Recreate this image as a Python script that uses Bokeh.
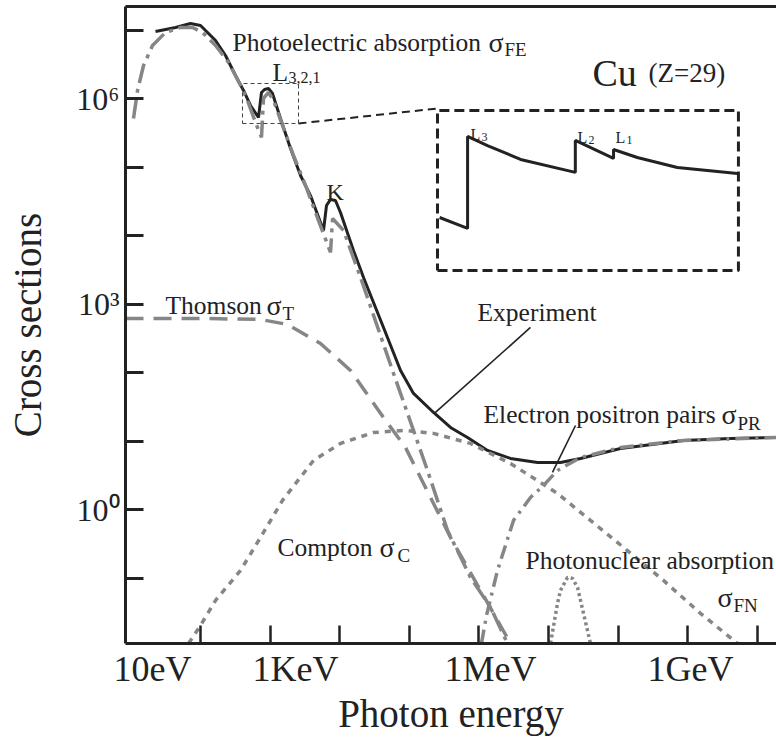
import json
import numpy as np
from bokeh.plotting import figure
from bokeh.models import Range1d, FixedTicker, Label, LogAxis, CustomJSTickFormatter
from bokeh.embed import file_html
from bokeh.resources import INLINE

# ---------------- data (log10 photon energy in eV, log10 cross section) ----------------
exp_loge = [1.353, 1.641, 1.856, 2.0, 2.216, 2.359, 2.503, 2.618, 2.718, 2.833, 2.876, 2.920,
            2.977, 3.034, 3.149, 3.293, 3.437, 3.580, 3.767, 3.810, 3.868, 3.939, 4.011, 4.198,
            4.342, 4.629, 4.874, 5.060, 5.348, 5.592, 5.836, 6.124, 6.454, 6.842, 7.172, 7.460,
            8.034, 8.940, 9.615, 10.276]
exp_logs = [6.985, 7.044, 7.102, 7.073, 6.854, 6.635, 6.343, 6.124, 5.905, 5.730, 6.095, 6.139,
            6.153, 6.080, 5.715, 5.277, 4.883, 4.590, 4.080, 4.445, 4.533, 4.518, 4.343, 3.788,
            3.394, 2.664, 2.036, 1.701, 1.423, 1.204, 1.058, 0.869, 0.752, 0.693, 0.693, 0.752,
            0.898, 1.015, 1.044, 1.058]

fe_loge = [1.037, 1.095, 1.181, 1.310, 1.497, 1.713, 1.885, 2.029, 2.216, 2.402, 2.575, 2.675,
           2.790, 2.876, 2.905, 2.977, 3.049, 3.178, 3.336, 3.509, 3.652, 3.868, 3.897, 4.055,
           4.299, 4.773, 5.060, 5.261, 5.549, 5.879, 6.167, 6.411]
fe_logs = [5.715, 6.124, 6.489, 6.781, 6.971, 7.044, 7.044, 6.971, 6.781, 6.533, 6.197, 5.978,
           5.657, 5.438, 6.007, 6.095, 5.978, 5.613, 5.175, 4.737, 4.343, 3.759, 4.255, 4.080,
           3.394, 1.993, 1.161, 0.577, -0.299, -0.985, -1.423, -1.949]

thomson_loge = [0.922, 2.0, 2.862, 3.250, 3.724, 4.155, 4.629, 4.945, 5.592, 6.267, 6.454]
thomson_logs = [2.796, 2.796, 2.781, 2.708, 2.431, 2.036, 1.350, 0.912, -0.401, -1.613, -1.949]

compton_loge = [1.828, 2.0, 2.216, 2.575, 2.862, 3.178, 3.624, 4.011, 4.486, 4.945, 5.348, 5.879,
                6.454, 7.129, 7.603, 8.078, 8.652, 9.184, 9.716]
compton_logs = [-1.949, -1.686, -1.321, -0.883, -0.401, 0.139, 0.723, 0.971, 1.131, 1.161, 1.117,
                0.971, 0.679, 0.241, -0.153, -0.547, -1.029, -1.511, -1.949]

pairs_loge = [6.037, 6.109, 6.267, 6.497, 6.741, 6.928, 7.129, 7.460, 8.034, 8.940, 10.276]
pairs_logs = [-1.949, -1.540, -0.883, -0.153, 0.182, 0.358, 0.577, 0.766, 0.912, 1.015, 1.058]

nuc_loge = [7.029, 7.129, 7.172, 7.273, 7.345, 7.417, 7.503, 7.603]
nuc_logs = [-1.949, -1.365, -1.175, -0.985, -1.000, -1.131, -1.511, -1.949]

# inset (zoom of the L3, L2, L1 edges), relative units inside the inset box
inset_e = [0.007, 0.100, 0.100, 0.166, 0.276, 0.458, 0.458, 0.585, 0.585, 0.664, 0.797, 0.997]
inset_s = [0.331, 0.263, 0.838, 0.781, 0.694, 0.613, 0.813, 0.700, 0.756, 0.706, 0.644, 0.606]

x_tick_labels = ["10eV", "1KeV", "1MeV", "1GeV"]
x_tick_label_pos = [1.310, 3.364, 6.166, 9.040]
y_tick_label_exp = [0, 3, 6]
y_tick_label_sup = ["\u2070", "\u00b3", "\u2076"]

# ---------------- layout constants ----------------
FONT = "Liberation Serif"
INK = "#222222"
GRAY = "#868686"
X0, X1 = 0.922, 10.276
Y0, Y1 = -1.95, 7.35

def E(a):
    return 10 ** np.asarray(a, dtype=float)

p = figure(width=776, height=738, x_axis_type="log", y_axis_type="log",
           x_range=Range1d(10 ** X0, 10 ** X1), y_range=Range1d(10 ** Y0, 10 ** Y1),
           output_backend="svg", toolbar_location=None,
           min_border_left=125, min_border_right=0, min_border_top=6, min_border_bottom=95)
p.outline_line_color = None
p.grid.visible = False
p.background_fill_color = "white"
p.border_fill_color = "white"

# x axis: tick marks only
xa = p.xaxis[0]
xa.ticker = FixedTicker(ticks=[10.0 ** k for k in range(2, 11)])
xa.formatter = CustomJSTickFormatter(code="return ''")
xa.major_label_text_font_size = "1px"
xa.major_label_standoff = 0
xa.major_tick_line_width = 2.5

# y axis: tick marks + labels 10^0, 10^3, 10^6
ya = p.yaxis[0]
ya.ticker = FixedTicker(ticks=[10.0 ** k for k in range(-1, 8)])
ya.formatter = CustomJSTickFormatter(code=(
    "const e = Math.round(Math.log10(tick));"
    f"const exps = {json.dumps(y_tick_label_exp)};"
    f"const sups = {json.dumps(y_tick_label_sup)};"
    "const i = exps.indexOf(e);"
    "return i >= 0 ? '10' + sups[i] : '';"))
ya.major_label_text_font = FONT
ya.major_label_text_font_size = "32px"
ya.major_label_text_color = INK
ya.major_label_standoff = 6
ya.major_tick_line_width = 3
ya.axis_label = "Cross sections"
ya.axis_label_text_font = FONT
ya.axis_label_text_font_size = "39px"
ya.axis_label_text_font_style = "normal"
ya.axis_label_text_color = INK
ya.axis_label_standoff = 24

for ax in (xa, ya):
    ax.axis_line_width = 3
    ax.axis_line_color = INK
    ax.major_tick_in = 18
    ax.major_tick_out = 0
    ax.major_tick_line_color = INK
    ax.minor_tick_line_color = None

# second bottom axis carrying the energy labels
xl = LogAxis(ticker=FixedTicker(ticks=list(E(x_tick_label_pos))),
             formatter=CustomJSTickFormatter(code=f"return {json.dumps(x_tick_labels)}[index];"),
             axis_line_color=None, major_tick_line_color=None, minor_tick_line_color=None,
             major_tick_in=0, major_tick_out=0, major_label_standoff=5,
             major_label_text_font=FONT, major_label_text_font_size="36px",
             major_label_text_color=INK,
             axis_label="Photon energy", axis_label_text_font=FONT,
             axis_label_text_font_size="39px", axis_label_text_font_style="normal",
             axis_label_text_color=INK, axis_label_standoff=0)
p.add_layout(xl, "below")

top = LogAxis(ticker=FixedTicker(ticks=[]), formatter=CustomJSTickFormatter(code="return ''"),
              axis_line_width=3, axis_line_color=INK, major_tick_line_color=None,
              minor_tick_line_color=None, major_tick_out=0, major_tick_in=0,
              major_label_standoff=0, major_label_text_font_size="1px")
p.add_layout(top, "above")

# ---------------- curves ----------------
p.line(E(exp_loge), E(exp_logs), line_color=INK, line_width=3)
p.line(E(thomson_loge), E(thomson_logs), line_color=GRAY, line_width=3.5, line_dash="18 10")
p.line(E(fe_loge), E(fe_logs), line_color=GRAY, line_width=3.5, line_dash="20 6 4 6")
p.line(E(compton_loge), E(compton_logs), line_color=GRAY, line_width=3.5, line_dash="6 6")
p.line(E(pairs_loge), E(pairs_logs), line_color=GRAY, line_width=3.5, line_dash="14 6 3 6")
p.line(E(nuc_loge), E(nuc_logs), line_color=GRAY, line_width=3.5, line_dash="3 3")

# ---------------- zoom rectangle, connector and inset ----------------
zr = (2.603, 3.408, 5.642, 6.226)          # small dashed rectangle around L edges
p.line(E([zr[0], zr[1], zr[1], zr[0], zr[0]]), E([zr[2], zr[2], zr[3], zr[3], zr[2]]),
       line_color="#444444", line_width=1, line_dash="4 3")
ib = (5.405, 9.729, 3.496, 5.832)          # inset box
p.line(E([zr[1], ib[0]]), E([zr[2], 5.861]), line_color=INK, line_width=2, line_dash="8 5")
p.line(E([ib[0], ib[1], ib[1], ib[0], ib[0]]), E([ib[2], ib[2], ib[3], ib[3], ib[2]]),
       line_color=INK, line_width=3, line_dash="10 5")
ix = ib[0] + np.asarray(inset_e) * (ib[1] - ib[0])
iy = ib[2] + np.asarray(inset_s) * (ib[3] - ib[2])
p.line(E(ix), E(iy), line_color=INK, line_width=3)

# leader lines
p.line(E([6.741, 5.376]), E([2.664, 1.423]), line_color=INK, line_width=1.6)
p.line(E([7.388, 7.057]), E([1.233, 0.547]), line_color=INK, line_width=1.6)

# ---------------- texts inside the plot ----------------
def lab(text, lx, ly, size, align="left"):
    p.add_layout(Label(x=10 ** lx, y=10 ** ly, text=text, text_font=FONT,
                       text_font_size=f"{size}px", text_color=INK, text_align=align,
                       text_baseline="alphabetic"))

lab("Photoelectric absorption", 2.459, 6.824, 25.5)
lab("σ", 6.137, 6.824, 28)
lab("FE", 6.368, 6.722, 19)
lab("L", 3.034, 6.386, 25.5)
lab("3,2,1", 3.264, 6.313, 16)
lab("K", 3.810, 4.635, 24)
lab("Cu", 7.632, 6.386, 38)
lab("(Z=29)", 8.436, 6.386, 27)
lab("L", 5.879, 5.481, 16)
lab("3", 6.037, 5.438, 12)
lab("L", 7.416, 5.438, 16)
lab("2", 7.574, 5.394, 12)
lab("L", 7.962, 5.438, 16)
lab("1", 8.120, 5.394, 12)
lab("Thomson", 1.497, 2.985, 25.5)
lab("σ", 2.948, 2.985, 28)
lab("T", 3.178, 2.868, 19)
lab("Experiment", 5.980, 2.883, 25.5)
lab("Electron positron pairs", 6.066, 1.394, 25.5)
lab("σ", 9.485, 1.394, 28)
lab("PR", 9.715, 1.262, 19)
lab("Compton", 3.106, -0.548, 25.5)
lab("σ", 4.571, -0.548, 28)
lab("C", 4.830, -0.665, 19)
lab("Photonuclear absorption", 6.669, -0.738, 25.5)
lab("σ", 9.428, -1.278, 28)
lab("FN", 9.658, -1.395, 19)

open("out.html", "w").write(file_html(p, INLINE))
